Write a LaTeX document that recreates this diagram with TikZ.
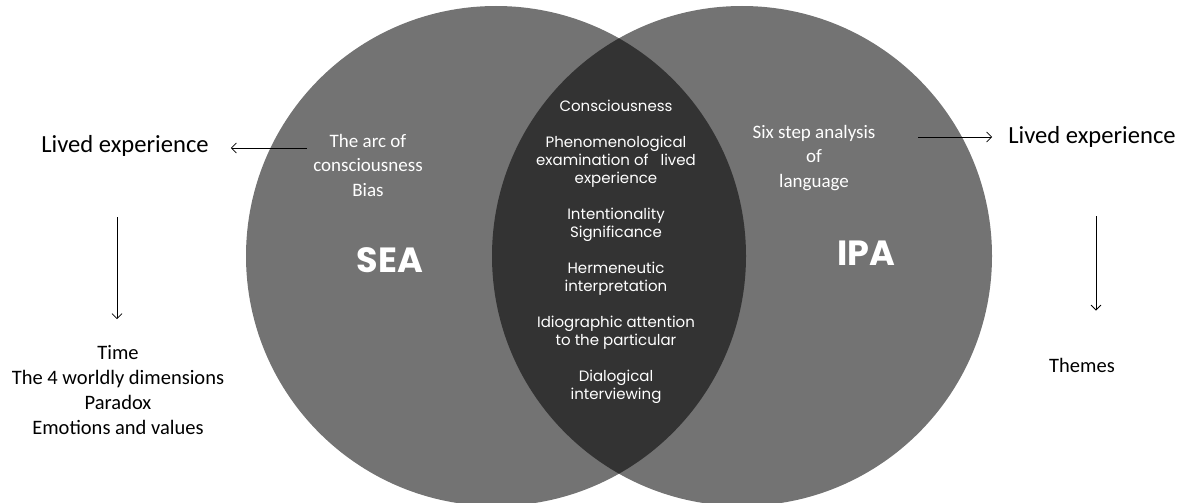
\documentclass[tikz,border=0pt]{standalone}
\usepackage{fontspec}
\setmainfont{Carlito}
\newfontfamily\poppins{Poppins}
\usetikzlibrary{arrows.meta}

\definecolor{ringgray}{HTML}{737373}
\definecolor{lensgray}{HTML}{333333}

\begin{document}
\begin{tikzpicture}[
  x=1pt, y=-1pt,
  outtext/.style={
    text=black,
    align=center,
    inner sep=0pt,
    font=\fontsize{20.5}{25}\selectfont
  },
  bigtext/.style={
    text=black,
    inner sep=0pt,
    font=\fontsize{24.6}{30}\selectfont
  },
  intext/.style={
    text=white,
    align=center,
    inner sep=0pt,
    font=\fontsize{19}{24.5}\selectfont
  },
  lenstext/.style={
    text=white,
    align=center,
    inner sep=0pt,
    font=\poppins\fontsize{15}{18}\selectfont
  },
  tagtext/.style={
    text=white,
    inner sep=0pt,
    font=\poppins\bfseries\fontsize{35}{40}\selectfont
  },
  arr/.style={
    -{Straight Barb[length=5pt,width=10pt]},
    line width=0.8pt
  }
]
\useasboundingbox (0,0) rectangle (1187,503);
% the two circles and their overlap
\fill[ringgray] (496,256) circle[radius=250pt];
\fill[ringgray] (742,256) circle[radius=250pt];
\begin{scope}
  \clip (496,256) circle[radius=250pt];
  \fill[lensgray] (742,256) circle[radius=250pt];
\end{scope}
% texts in the circles
\node[tagtext] (sea) at (390,260) {SEA};
\node[tagtext] (ipa) at (866,253) {IPA};
\node[intext] (arc) at (368,165) {The arc of\\consciousness\\Bias};
\node[intext] (six) at (814,158) {Six step analysis\\of\\language};
\node[lenstext] (lens) at (616,252) {Consciousness\\[18pt]
  Phenomenological\\examination of \ \ lived\\experience\\[18pt]
  Intentionality\\Significance\\[18pt]
  Hermeneutic\\interpretation\\[18pt]
  Idiographic attention\\to the particular\\[18pt]
  Dialogical\\interviewing};
% texts outside
\node[bigtext] (livedL) at (125,146) {Lived experience};
\node[bigtext] (livedR) at (1092,137) {Lived experience};
\node[outtext] (seaout) at (118,390) {Time\\The 4 worldly dimensions\\Paradox\\Emotions and values};
\node[outtext] (themes) at (1082,365) {Themes};
% arrows
\coordinate (arcL) at (307,148);
\coordinate (sixR) at (918,137);
\coordinate (downL) at (117,217);
\coordinate (downR) at (1096,216);
\draw[arr] (arcL) -- ([xshift=22pt]livedL.east |- arcL);
\draw[arr] (sixR) -- ([xshift=-16pt]livedR.west);
\draw[arr] (downL) -- (downL |- seaout.north) [shorten >=26pt];
\draw[arr] (downR) -- (downR |- themes.north) [shorten >=47pt];
\end{tikzpicture}
\end{document}
